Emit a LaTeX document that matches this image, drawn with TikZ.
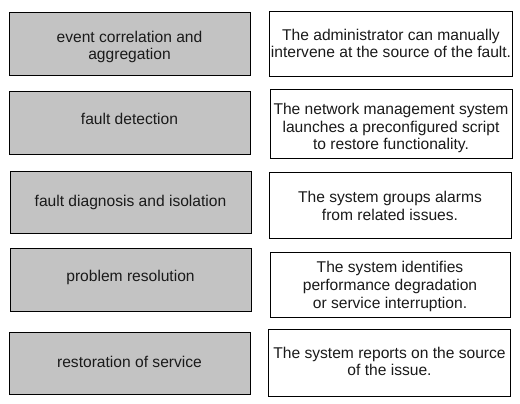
\documentclass[tikz,border=0pt]{standalone}
\usepackage{fontspec}
\setmainfont{Liberation Sans}
\definecolor{boxgray}{HTML}{C3C3C3}
\definecolor{txt}{HTML}{1A1A1A}
\begin{document}
\begin{tikzpicture}[x=1pt,y=-1pt,
  term/.style={draw=black,line width=1pt,fill=boxgray,minimum width=241pt,inner sep=0pt},
  desc/.style={draw=black,line width=1pt,fill=white,minimum width=242pt,inner sep=0pt},
  lbl/.style={inner sep=0pt,align=center,text=txt,font=\fontsize{15.6}{17.8}\selectfont}]
\useasboundingbox[fill=white] (0,0) rectangle (520,404);
\node[term,minimum height=63pt] (l1) at (129.5,44.5) {};
\node[term,minimum height=62pt] (l2) at (129.5,123) {};
\node[term,minimum height=62pt] (l3) at (130.5,202) {};
\node[term,minimum height=63pt] (l4) at (130.5,279.5) {};
\node[term,minimum height=62pt] (l5) at (129.5,363) {};
\node[desc,minimum height=65pt,minimum width=243pt] (r1) at (391,44.5) {};
\node[desc,minimum height=69pt] (r2) at (391,124) {};
\node[desc,minimum height=66pt] (r3) at (390,205) {};
\node[desc,minimum height=65pt,minimum width=240pt] (r4) at (390,284.5) {};
\node[desc,minimum height=67pt] (r5) at (389.5,362.5) {};
\node[lbl] (l1t) at ([yshift=-2.5pt]l1.center) {event correlation and\\aggregation};
\node[lbl] (l2t) at ([yshift=4pt]l2.center) {fault detection};
\node[lbl] (l3t) at (l3.center) {fault diagnosis and isolation};
\node[lbl] (l4t) at ([yshift=2.5pt]l4.center) {problem resolution};
\node[lbl] (l5t) at ([yshift=1pt]l5.center) {restoration of service};
\node[lbl] (r1t) at ([yshift=1pt]r1.center) {The administrator can manually\\intervene at the source of the fault.};
\node[lbl] (r2t) at ([yshift=-4pt]r2.center) {The network management system\\launches a preconfigured script\\to restore functionality.};
\node[lbl] (r3t) at ([yshift=-1pt]r3.center) {The system groups alarms\\from related issues.};
\node[lbl] (r4t) at ([yshift=-2pt]r4.center) {The system identifies\\performance degradation\\or service interruption.};
\node[lbl] (r5t) at ([yshift=1pt]r5.center) {The system reports on the source\\of the issue.};
\end{tikzpicture}
\end{document}
